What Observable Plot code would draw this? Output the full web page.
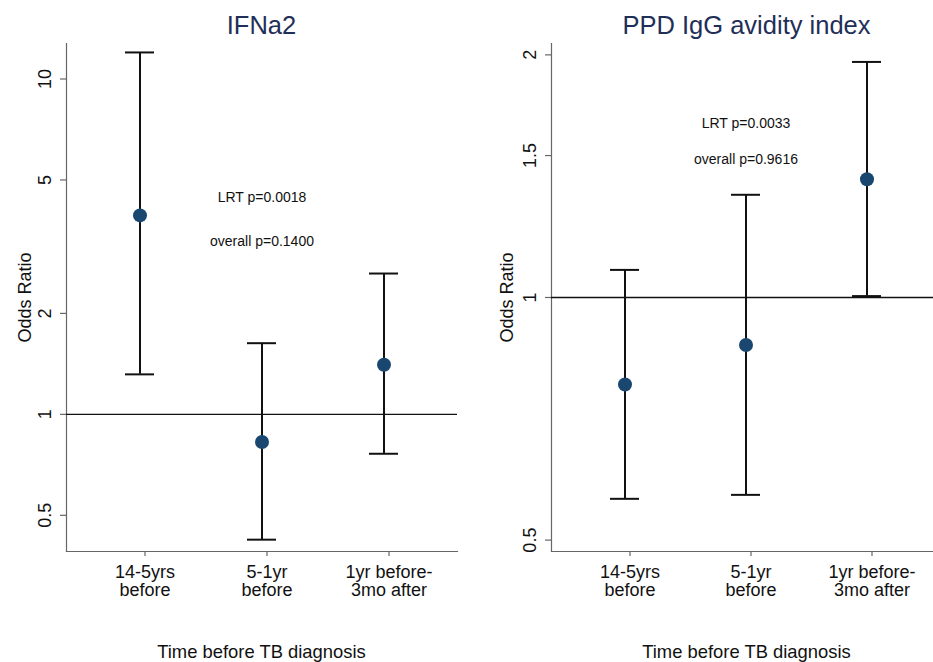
<!DOCTYPE html>
<html>
<head>
<meta charset="utf-8">
<script src="https://cdn.jsdelivr.net/npm/d3@7"></script>
<script src="https://cdn.jsdelivr.net/npm/@observablehq/plot@0.6"></script>
<style>
  html, body { margin: 0; padding: 0; background: #fff; }
  #wrap { position: relative; width: 933px; height: 662px; overflow: hidden; font-family: "Liberation Sans", Arial, Helvetica, sans-serif; }
  #left { position: absolute; left: 0; top: 0; }
  #right { position: absolute; left: 470px; top: 0; }
</style>
</head>
<body>
<div id="wrap"><div id="left"></div><div id="right"></div></div>
<script>
// ---- data ----
const categories = ["14-5yrs\nbefore", "5-1yr\nbefore", "1yr before-\n3mo after"];
const xTitle = "Time before TB diagnosis";
const yTitle = "Odds Ratio";

const ifnTitle = "IFNa2";
const ifnOR = [3.92, 0.827, 1.406];
const ifnLow = [1.316, 0.423, 0.763];
const ifnHigh = [12.0, 1.63, 2.63];
const ifnTicks = [0.5, 1, 2, 5, 10];
const ifnNotes = ["LRT p=0.0018", "overall p=0.1400"];
const ifnNoteY = [4.43, 3.28];

const ppdTitle = "PPD IgG avidity index";
const ppdOR = [0.780, 0.873, 1.402];
const ppdLow = [0.5626, 0.569, 1.004];
const ppdHigh = [1.082, 1.341, 1.960];
const ppdTicks = [0.5, 1, 1.5, 2];
const ppdNotes = ["LRT p=0.0033", "overall p=0.9616"];
const ppdNoteY = [1.644, 1.483];

const FONT = "Liberation Sans, Arial, Helvetica, sans-serif";

function panel({width, marginLeft, marginRight, yDomain, or, low, high, ticks, notes, noteY, title, titleX, yTitleDx}) {
  const rows = categories.map((c, i) => ({c, or: or[i], low: low[i], high: high[i]}));
  const noteRows = notes.map((t, i) => ({t, y: noteY[i], c: categories[1]}));
  return Plot.plot({
    width, height: 662,
    marginLeft, marginRight, marginTop: 43, marginBottom: 111,
    style: {fontFamily: FONT, background: "white", overflow: "hidden"},
    x: {type: "band", domain: categories, paddingInner: 0.763, paddingOuter: 0.4815, axis: null, label: null},
    y: {type: "log", domain: yDomain, axis: null, label: null},
    marks: [
      // axis lines
      Plot.frame({anchor: "left", stroke: "#666", strokeWidth: 1.2}),
      Plot.frame({anchor: "bottom", stroke: "#666", strokeWidth: 1.2}),
      Plot.axisY({ticks, tickSize: 6, tickFormat: () => "", label: null, stroke: "#666", strokeWidth: 1.2}),
      Plot.text(ticks, {y: d => d, text: d => String(d), frameAnchor: "left", dx: -21, rotate: -90,
        textAnchor: "middle", lineAnchor: "middle", fontSize: 18, fill: "#111"}),
      Plot.axisX({tickSize: 5, tickPadding: 8, fontSize: 18, lineHeight: 1.02, stroke: "#666", strokeWidth: 1.2,
        tickFormat: d => d, label: null, fill: "#111", dx: 5}),
      // reference line at OR = 1
      Plot.ruleY([1], {stroke: "#111", strokeWidth: 1.4}),
      // error bars
      Plot.ruleX(rows, {x: "c", y1: "low", y2: "high", stroke: "#111", strokeWidth: 2}),
      Plot.tickY(rows, {x: "c", y: "low", stroke: "#111", strokeWidth: 2}),
      Plot.tickY(rows, {x: "c", y: "high", stroke: "#111", strokeWidth: 2}),
      Plot.dot(rows, {x: "c", y: "or", r: 7, fill: "#1a476f", stroke: "none"}),
      // annotations
      Plot.text(noteRows, {x: "c", y: "y", text: "t", fontSize: 14, fill: "#111", textAnchor: "middle"}),
      // titles
      Plot.text([title], {frameAnchor: "top-left", text: d => d, dx: titleX, dy: -18, fontSize: 25.5, fill: "#1f2f57", textAnchor: "middle", lineAnchor: "middle"}),
      Plot.text([yTitle], {frameAnchor: "left", text: d => d, dx: yTitleDx, rotate: -90, fontSize: 18, fill: "#111", textAnchor: "middle", lineAnchor: "middle"}),
      Plot.text([xTitle], {frameAnchor: "bottom-left", text: d => d, dx: titleX, dy: 101, fontSize: 18.4, fill: "#111", textAnchor: "middle", lineAnchor: "middle"})
    ]
  });
}

document.getElementById("left").appendChild(panel({
  width: 470, marginLeft: 66, marginRight: 13, yDomain: [0.39, 12.76],
  or: ifnOR, low: ifnLow, high: ifnHigh, ticks: ifnTicks, notes: ifnNotes, noteY: ifnNoteY,
  title: ifnTitle, titleX: 261 - 66, yTitleDx: -41
}));
document.getElementById("right").appendChild(panel({
  width: 463, marginLeft: 81, marginRight: -7, yDomain: [0.484, 2.066],
  or: ppdOR, low: ppdLow, high: ppdHigh, ticks: ppdTicks, notes: ppdNotes, noteY: ppdNoteY,
  title: ppdTitle, titleX: 746 - 470 - 81, yTitleDx: -44
}));
</script>
</body>
</html>
